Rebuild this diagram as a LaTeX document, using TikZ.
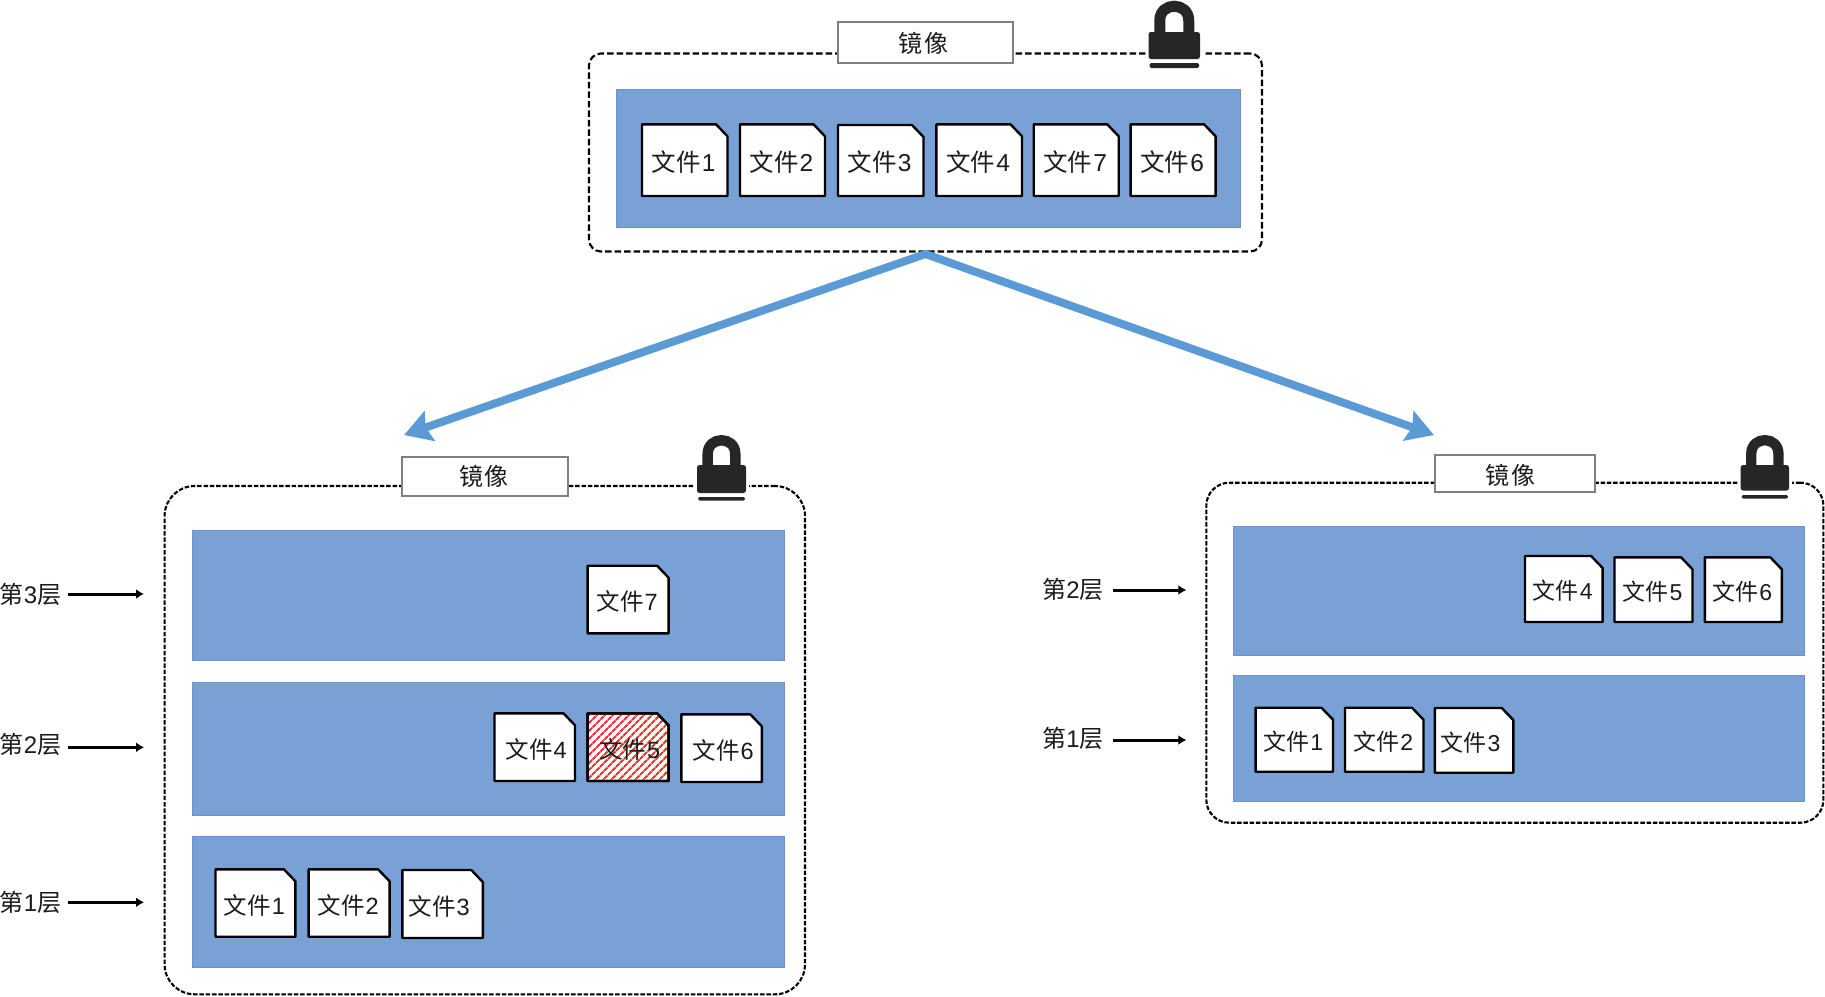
\documentclass[tikz,border=0pt]{standalone}
\usepackage{fontspec}
\usetikzlibrary{arrows.meta,fit,patterns.meta}
\newfontfamily\cjk{Noto Sans CJK SC}
\newfontfamily\lat{Liberation Sans}
\definecolor{layerblue}{HTML}{7AA1D6}
\definecolor{layeredge}{HTML}{6C94CB}
\definecolor{arrowblue}{HTML}{5B9BD5}
\definecolor{lockdark}{HTML}{262626}
\definecolor{inkdark}{HTML}{1C1C1C}
\definecolor{hatchred}{HTML}{F23A3A}
\tikzset{
  frame/.style={draw=black,line width=2.1pt,inner sep=0pt,fill=white},
  layerbox/.style={draw=layeredge,line width=1pt,fill=layerblue,inner sep=0pt},
  tagbox/.style={draw=black!50,line width=1.8pt,fill=white,inner sep=0pt},
  tagtext/.style={inner sep=0pt,text=inkdark,font=\fontsize{24}{26}\selectfont\cjk},
  fileshape/.style={draw=black,line width=2.4pt,fill=white,line join=round},
  filetext/.style={inner sep=0pt,text=inkdark},
  layertext/.style={inner sep=0pt,text=inkdark,font=\fontsize{24}{26}\selectfont},
  layerarrow/.style={line width=3pt,draw=black,-{Latex[length=8pt,width=10pt]}},
  bigarrow/.style={line width=8pt,draw=arrowblue,line cap=round,-{Stealth[length=27pt,width=31pt,inset=4pt]}},
}
\newcommand{\filedx}{-1}
% optional overlay, x1, y1, x2, y2, digit, name, font size
\newcommand{\filedoc}[8][]{%
  \pgfmathsetmacro{\cutx}{#4-11.5}\pgfmathsetmacro{\cuty}{#3+12}%
  \pgfmathsetmacro{\midx}{(#2+#4)/2+\filedx}\pgfmathsetmacro{\midy}{(#3+#5)/2+2}%
  \path[fileshape] (#2,#3) -- (\cutx,#3) -- (#4,\cuty) -- (#4,#5) -- (#2,#5) -- cycle;
  #1%
  \node[filetext,font=\fontsize{#8}{#8}\selectfont] (#7) at (\midx,\midy) {{\cjk 文件}\kern1pt{\lat #6}};%
}
% x1, x2, top, bodytop, bodybot, bartop, barbot
\newcommand{\padlock}[7]{%
  \pgfmathsetmacro{\lw}{(#2-#1)/51.5}%
  \pgfmathsetmacro{\cx}{(#1+#2)/2}%
  \pgfmathsetmacro{\rr}{14.5*\lw}%
  \pgfmathsetmacro{\xl}{\cx-\rr}\pgfmathsetmacro{\xr}{\cx+\rr}%
  \pgfmathsetmacro{\ya}{#3+20*\lw}\pgfmathsetmacro{\yc}{\ya-19.3*\lw}%
  \pgfmathsetmacro{\sw}{11*\lw}%
  \fill[white,rounded corners=3pt] (#1-3,#4-1) rectangle (#2+3,#5+1);
  \draw[lockdark,line width=\sw pt] (\xl,#4+2) -- (\xl,\ya) .. controls (\xl,\yc) and (\xr,\yc) .. (\xr,\ya) -- (\xr,#4+2);
  \fill[lockdark,rounded corners=2.5pt] (#1,#4) rectangle (#2,#5);
  \fill[lockdark,rounded corners=1.5pt] (#1+1,#6) rectangle (#2-1,#7);
}
\begin{document}
\begin{tikzpicture}[x=1pt,y=-1pt]
\useasboundingbox (0,0) rectangle (1825,996);
\fill[white] (0,0) rectangle (1825,996);

% containers
\node[frame,fit={(589,53.5)(1262,251.5)},rounded corners=12pt,dash pattern=on 6.5pt off 3pt] (topframe) {};
\node[frame,fit={(164.6,486)(805,994.3)},rounded corners=30pt,dash pattern=on 4.5pt off 1.8pt] (leftframe) {};
\node[frame,fit={(1206.3,482.7)(1823.4,822.7)},rounded corners=23pt,dash pattern=on 4.5pt off 1.8pt] (rightframe) {};

% name tags
\node[tagbox,fit={(837.7,22.3)(1013,62.7)}] (toptag) {};
\node[tagtext] (toptagtext) at (923,43.5) {镜\kern2pt 像};
\node[tagbox,fit={(402,457)(568,496)}] (lefttag) {};
\node[tagtext] (lefttagtext) at (484,476) {镜\kern2pt 像};
\node[tagbox,fit={(1434.8,455)(1595,492.3)}] (righttag) {};
\node[tagtext] (righttagtext) at (1510,475) {镜\kern2pt 像};

% locks
\padlock{1148.5}{1200}{0.7}{32}{59}{63}{68}
\padlock{697}{746}{435}{465}{493}{497}{500.5}
\padlock{1740.7}{1789}{435}{465}{490.5}{495}{498.5}

% layers
\node[layerbox,fit={(616.4,89)(1240.8,227.7)}] (toplayer) {};
\node[layerbox,fit={(192,530)(784.5,660.7)}] (leftthree) {};
\node[layerbox,fit={(192,682.3)(784.5,815)}] (lefttwo) {};
\node[layerbox,fit={(192,836.7)(784.5,967.3)}] (leftone) {};
\node[layerbox,fit={(1233,526.7)(1804.4,655)}] (righttwo) {};
\node[layerbox,fit={(1233,675.3)(1804.4,801.3)}] (rightone) {};

% files: top image
\filedoc{642}{124.3}{727.5}{196}{1}{ta}{24.5}
\filedoc{740}{124.3}{825}{196}{2}{tb}{24.5}
\filedoc{838}{125}{923.5}{196}{3}{tc}{24.5}
\filedoc{936.4}{124.3}{1022}{196}{4}{td}{24.5}
\filedoc{1033.7}{124.3}{1118.7}{196}{7}{tg}{24.5}
\filedoc{1130.6}{124.3}{1215.6}{196}{6}{tf}{24.5}

% files: left image
\filedoc{587.6}{565.7}{668.6}{633.3}{7}{lg}{23.5}
\renewcommand{\filedx}{1.5}
\filedoc{494.5}{713.3}{575}{781}{4}{ld}{23.5}
\filedoc[{\path[pattern={Lines[angle=45,distance=5.4pt,line width=2.3pt]},pattern color=hatchred] (587.6,713.3) -- (657.1,713.3) -- (668.6,725.3) -- (668.6,781) -- (587.6,781) -- cycle;
  \draw[black,line width=2.4pt,line join=round] (587.6,713.3) -- (657.1,713.3) -- (668.6,725.3) -- (668.6,781) -- (587.6,781) -- cycle;}]{587.6}{713.3}{668.6}{781}{5}{le}{23.5}
\filedoc{681.3}{714.3}{761.8}{782}{6}{lf}{23.5}
\renewcommand{\filedx}{-1}
\filedoc{215.5}{869.3}{295.4}{936.7}{1}{la}{23.5}
\filedoc{308.6}{869.3}{389.6}{936.7}{2}{lb}{23.5}
\renewcommand{\filedx}{-3.5}
\filedoc{402.3}{870}{482.8}{938}{3}{lc}{23.5}
\renewcommand{\filedx}{-1}

% files: right image
\filedoc{1525}{556}{1602.6}{622}{4}{rd}{23}
\filedoc{1614.5}{557.3}{1692.5}{622}{5}{re}{23}
\filedoc{1704.8}{557.3}{1781.8}{622}{6}{rf}{23}
\filedoc{1255.6}{707.7}{1333}{771.7}{1}{ra}{23}
\filedoc{1345}{707.7}{1423.5}{771.7}{2}{rb}{23}
\renewcommand{\filedx}{-3.5}
\filedoc{1434.8}{708}{1513.3}{772.7}{3}{rc}{23}
\renewcommand{\filedx}{-1}

% layer captions
\node[layertext] (cap3) at (30.5,594) {{\cjk 第}{\lat 3}{\cjk 层}};
\node[layertext] (cap2) at (30.5,744) {{\cjk 第}{\lat 2}{\cjk 层}};
\node[layertext] (cap1) at (30.5,902) {{\cjk 第}{\lat 1}{\cjk 层}};
\node[layertext] (rcap2) at (1073,589) {{\cjk 第}{\lat 2}{\cjk 层}};
\node[layertext] (rcap1) at (1073,738.5) {{\cjk 第}{\lat 1}{\cjk 层}};

\coordinate (a3) at (144,594);
\coordinate (a2) at (144,747.3);
\coordinate (a1) at (144,902.3);
\coordinate (b2) at (1186.3,590);
\coordinate (b1) at (1186.3,740);
\draw[layerarrow] (cap3.east -| 67.8,0) -- (a3);
\draw[layerarrow] (67.8,747.3) -- (a2);
\draw[layerarrow] (67.8,902.3) -- (a1);
\draw[layerarrow] (1113,590) -- (b2);
\draw[layerarrow] (1113,740) -- (b1);

% large arrows
\coordinate (tipl) at (404,435);
\coordinate (tipr) at (1434,435);
\coordinate (apex) at (925.5,254);
\draw[bigarrow] (apex) -- (tipl);
\draw[bigarrow] (apex) -- (tipr);
\end{tikzpicture}
\end{document}
